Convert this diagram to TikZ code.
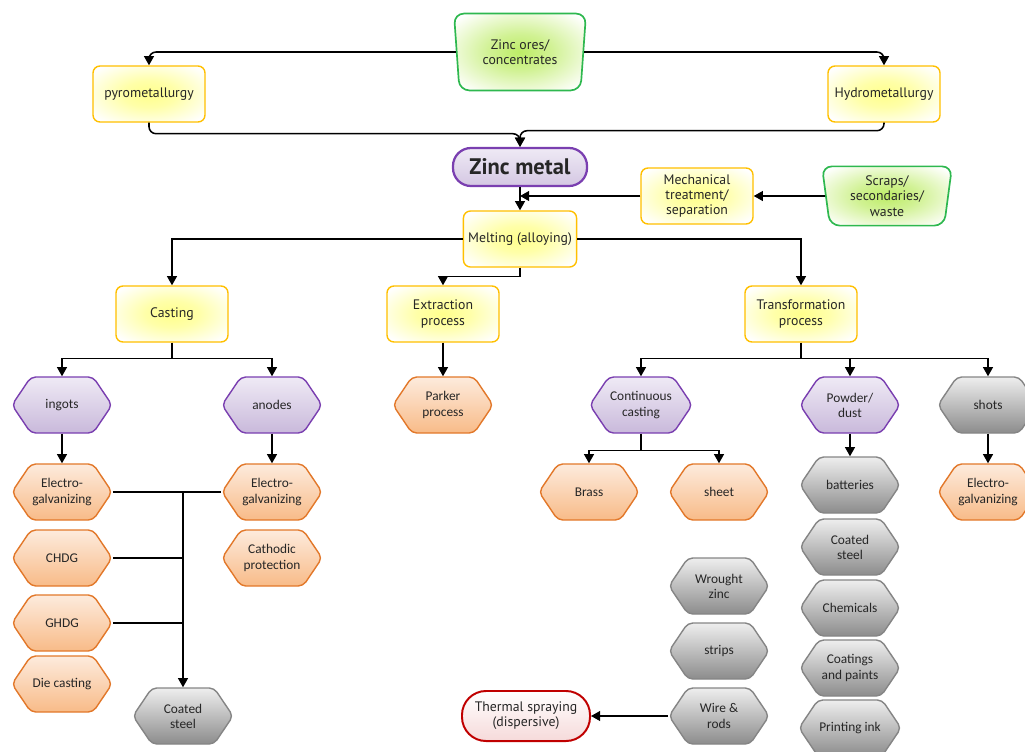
\documentclass[tikz,border=0pt]{standalone}
\usepackage{fontspec}
\setmainfont{Carlito}
\newfontfamily\boxfont{PT Sans}
\usetikzlibrary{shapes.geometric,shapes.symbols,arrows.meta}
\definecolor{ybord}{HTML}{FFC000}
\definecolor{yfill}{HTML}{FFFF8C}
\definecolor{gbord}{HTML}{2EB84F}
\definecolor{gfill}{HTML}{BDEC66}
\definecolor{pbord}{HTML}{7A3FB0}
\definecolor{ptop}{HTML}{EFEAF5}
\definecolor{pbot}{HTML}{C9B9DB}
\definecolor{obord}{HTML}{E2782A}
\definecolor{otop}{HTML}{FDEBDD}
\definecolor{obot}{HTML}{F8BB88}
\definecolor{gybord}{HTML}{858585}
\definecolor{gytop}{HTML}{EEEEEE}
\definecolor{gybot}{HTML}{8C8C8C}
\definecolor{rbord}{HTML}{C00000}
\definecolor{rbot}{HTML}{F6DADA}
\pgfdeclareradialshading{yglow}{\pgfpoint{0bp}{0bp}}{color(0bp)=(yfill); color(12bp)=(yfill!75!white); color(32bp)=(white); color(50bp)=(white)}
\pgfdeclareradialshading{gglow}{\pgfpoint{0bp}{0bp}}{color(0bp)=(gfill); color(12bp)=(gfill!70!white); color(32bp)=(white); color(50bp)=(white)}

\begin{document}
\begin{tikzpicture}[x=0.025cm, y=-0.025cm,
        every node/.style={align=center, text=black!85, font=\fontsize{9.5}{10.8}\selectfont},
        arr/.style={-{Triangle[length=6.5pt,width=7pt]}, line width=1.1pt},
        line/.style={line width=1.1pt},
        ybox/.style={rectangle, rounded corners=5pt, draw=ybord, line width=1pt,
            shading=yglow, minimum width=2.8cm, minimum height=1.4cm,
            font=\boxfont\fontsize{9.8}{10.8}\selectfont},
        ore/.style={trapezium, trapezium angle=99, trapezium stretches body, rounded corners=7pt,
            draw=gbord, line width=1.2pt, shading=gglow,
            minimum width=3.3cm, minimum height=1.92cm, font=\boxfont\fontsize{9.8}{10.8}\selectfont},
        hexa/.style={signal, signal to=east and west, signal pointer angle=112, rounded corners=3.5pt,
            line width=1pt, minimum width=2.5cm, minimum height=1.4cm, inner sep=1pt},
        purp/.style={hexa, draw=pbord, top color=ptop, bottom color=pbot},
        oran/.style={hexa, draw=obord, top color=otop, bottom color=obot},
        grey/.style={hexa, draw=gybord, top color=gytop, bottom color=gybot}
    ]
    \useasboundingbox (0,0) rectangle (1025,751);

    \node[ore] (ores) at (520,52) {Zinc ores/\\concentrates};
    \node[ybox] (pyro) at (149,94) {pyrometallurgy};
    \node[ybox] (hydro) at (884,94) {Hydrometallurgy};
    \node[rectangle, rounded corners=0.45cm, draw=pbord, line width=1.6pt, top color=ptop, bottom color=pbot!80,
        minimum width=3.35cm, minimum height=0.95cm, font=\boxfont\bfseries\fontsize{16}{17}\selectfont] (zinc) at (520,167) {Zinc metal};
    \node[ybox] (mech) at (697,196) {Mechanical\\treatment/\\separation};
    \node[ore, minimum width=3.25cm, minimum height=1.48cm] (scrap) at (887,196) {Scraps/\\secondaries/\\waste};
    \node[ybox] (melt) at (520,239) {Melting (alloying)};
    \node[ybox] (cast) at (172,314) {Casting};
    \node[ybox] (extr) at (443,314) {Extraction\\process};
    \node[ybox] (trans) at (801,314) {Transformation\\process};

    \node[purp] (ingots) at (62,405) {ingots};
    \node[purp] (anodes) at (272,405) {anodes};
    \node[oran] (parker) at (443,405) {Parker\\process};
    \node[purp] (contc) at (641,405) {Continuous\\casting};
    \node[purp] (powder) at (850,405) {Powder/\\dust};
    \node[grey] (shots) at (988,405) {shots};

    \node[oran] (eg1) at (62,492) {Electro-\\galvanizing};
    \node[oran] (eg2) at (272,492) {Electro-\\galvanizing};
    \node[oran] (brass) at (589,492) {Brass};
    \node[oran] (sheet) at (719,492) {sheet};
    \node[grey] (batt) at (850,485) {batteries};
    \node[oran] (eg3) at (988,492) {Electro-\\galvanizing};

    \node[oran] (chdg) at (62,558) {CHDG};
    \node[oran] (cath) at (272,558) {Cathodic\\protection};
    \node[grey] (coat2) at (850,547) {Coated\\steel};
    \node[grey] (wrought) at (719,586) {Wrought\\zinc};
    \node[grey] (chem) at (850,608) {Chemicals};
    \node[oran] (ghdg) at (62,623) {GHDG};
    \node[grey] (strips) at (719,651) {strips};
    \node[grey] (coatp) at (850,668) {Coatings\\and paints};
    \node[oran] (die) at (62,684) {Die casting};
    \node[grey] (coat1) at (183,716) {Coated\\steel};
    \node[grey] (wire) at (719,716) {Wire \&\\rods};
    \node[grey] (ink) at (850,728) {Printing ink};
    \node[rectangle, rounded corners=0.6cm, draw=rbord, line width=1.4pt, top color=white, bottom color=rbot,
        minimum width=3.2cm, minimum height=1.25cm, font=\boxfont\fontsize{9.8}{10.8}\selectfont] (therm) at (526,716) {Thermal spraying\\(dispersive)};

    \draw[arr, rounded corners=5pt] (ores.west) -| (pyro.north);
    \draw[arr, rounded corners=5pt] (ores.east) -| (hydro.north);
    \draw[arr, rounded corners=5pt] (pyro.south) -- ++(0,11) -| (zinc.north);
    \draw[arr, rounded corners=5pt] (hydro.south) -- ++(0,8) -| (zinc.north);
    \draw[arr] (scrap.west) -- (mech.east);
    \draw[arr] (mech.west) -- (mech.west -| zinc.south);
    \draw[arr] (zinc.south) -- (melt.north);
    \draw[arr] (melt.west) -| (cast.north);
    \draw[arr] (melt.east) -| (trans.north);
    \draw[arr] (melt.south) -- ++(0,9) -| (extr.north);
    \draw[arr] (extr.south) -- (parker.north);

    \draw[line] (cast.south) -- ++(0,16) coordinate (cj);
    \draw[arr] (cj) -| (ingots.north);
    \draw[arr] (cj) -| (anodes.north);
    \draw[line] (trans.south) -- ++(0,16) coordinate (tj);
    \draw[arr] (tj) -| (contc.north);
    \draw[arr] (tj) -| (powder.north);
    \draw[arr] (tj) -| (shots.north);

    \draw[arr] (ingots.south) -- (eg1.north);
    \draw[arr] (anodes.south) -- (eg2.north);
    \draw[line] (contc.south) -- ++(0,17) coordinate (cc);
    \draw[arr] (cc) -| (brass.north);
    \draw[arr] (cc) -| (sheet.north);
    \draw[arr] (powder.south) -- (batt.north);
    \draw[arr] (shots.south) -- (eg3.north);

    \draw[line] (eg1.east) -- (eg2.west);
    \draw[arr] (eg1.east -| coat1.north) -- (coat1.north);
    \draw[line] (chdg.east) -- (chdg.east -| coat1.north);
    \draw[line] (ghdg.east) -- (ghdg.east -| coat1.north);
    \draw[arr] (wire.west) -- (therm.east);
\end{tikzpicture}
\end{document}
